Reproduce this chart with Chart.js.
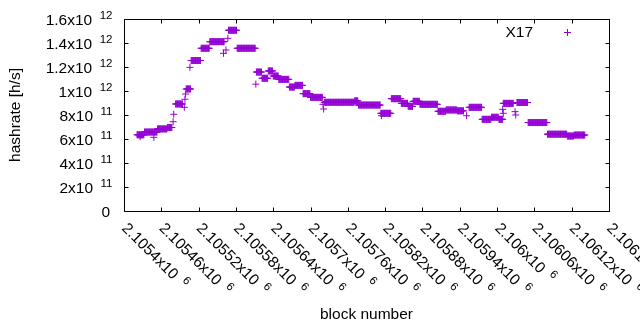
<!DOCTYPE html>
<html>
<head>
<meta charset="utf-8">
<script src="https://cdn.jsdelivr.net/npm/chart.js@4.4.0/dist/chart.umd.min.js"></script>
<style>
  html, body { margin: 0; padding: 0; background: #fff; }
  canvas { display: block; }
</style>
</head>
<body>
<canvas id="chart" width="640" height="330"></canvas>
<script>
// X17 hashrate per block — flat stretches (from, to, h/s)
const runFrom = [2105421, 2105433, 2105454, 2105470, 2105483, 2105500, 2105508, 2105524, 2105538, 2105568,
                 2105582, 2105613, 2105622, 2105632, 2105640, 2105649, 2105666, 2105675, 2105688, 2105700,
                 2105722, 2105771, 2105777, 2105813, 2105830, 2105846, 2105857, 2105865, 2105876, 2105905,
                 2105918, 2105936, 2105955, 2105976, 2105991, 2106003, 2106010, 2106032, 2106050, 2106081,
                 2106113, 2106124];
const runTo   = [2105432, 2105453, 2105469, 2105477, 2105494, 2105507, 2105523, 2105537, 2105561, 2105581,
                 2105611, 2105621, 2105631, 2105639, 2105648, 2105665, 2105674, 2105687, 2105699, 2105719,
                 2105770, 2105776, 2105812, 2105829, 2105845, 2105856, 2105864, 2105875, 2105904, 2105917,
                 2105935, 2105946, 2105975, 2105990, 2106002, 2106009, 2106026, 2106049, 2106080, 2106112,
                 2106123, 2106141];
const runHash = [6.35e11, 6.58e11, 6.84e11, 6.96e11, 8.92e11, 1.017e12, 1.254e12, 1.356e12, 1.411e12, 1.506e12,
                 1.356e12, 1.158e12, 1.106e12, 1.167e12, 1.125e12, 1.097e12, 1.033e12, 1.047e12, 9.78e11, 9.47e11,
                 9.06e11, 9.18e11, 8.83e11, 8.14e11, 9.36e11, 8.97e11, 8.72e11, 9.14e11, 8.89e11, 8.31e11,
                 8.42e11, 8.35e11, 8.64e11, 7.64e11, 7.81e11, 7.64e11, 8.97e11, 9.04e11, 7.37e11, 6.40e11,
                 6.25e11, 6.33e11];

// odd blocks that sit off the flat stretches
const singleBlock = [2105426, 2105448, 2105479, 2105480, 2105497, 2105498, 2105499, 2105506, 2105560, 2105564,
                     2105567, 2105612, 2105720, 2105721, 2105814, 2105951, 2106009, 2106010, 2106029, 2106030];
const singleHash  = [6.2e11, 6.14e11, 7.44e11, 8.06e11, 8.64e11, 9.31e11, 9.75e11, 1.197e12, 1.314e12, 1.342e12,
                     1.439e12, 1.057e12, 8.89e11, 8.50e11, 7.94e11, 7.94e11, 8.47e11, 8.14e11, 8.28e11, 8.0e11];

// tick positions and their gnuplot-style labels (mantissa x10^exp)
const xTicks    = [2105400, 2105460, 2105520, 2105580, 2105640, 2105700, 2105760,
                   2105820, 2105880, 2105940, 2106000, 2106060, 2106120, 2106180];
const xTickText = ['2.1054', '2.10546', '2.10552', '2.10558', '2.10564', '2.1057', '2.10576',
                   '2.10582', '2.10588', '2.10594', '2.106', '2.10606', '2.10612', '2.10618'];
const xTickExp  = '6';
const yTicks    = [0, 2e11, 4e11, 6e11, 8e11, 1e12, 1.2e12, 1.4e12, 1.6e12];
const yTickText = ['0', '2', '4', '6', '8', '1', '1.2', '1.4', '1.6'];
const yTickExp  = ['', '11', '11', '11', '11', '12', '12', '12', '12'];

const PURPLE = '#9400d3';
const FONT = '"Liberation Sans", Arial, sans-serif';

const points = [];
runFrom.forEach((from, i) => {
  for (let b = from; b <= runTo[i]; b++) points.push({ x: b, y: runHash[i] });
});
singleBlock.forEach((b, i) => points.push({ x: b, y: singleHash[i] }));

// border, inward ticks, superscript labels, titles and key — drawn like gnuplot
const gnuplotFrame = {
  id: 'gnuplotFrame',
  afterDraw(chart) {
    const { ctx, chartArea: a, scales: { x, y } } = chart;
    const L = Math.round(a.left) + 0.5, R = Math.round(a.right) + 0.5;
    const T = Math.round(a.top) + 0.5, B = Math.round(a.bottom) + 0.5;
    ctx.save();
    ctx.strokeStyle = '#000';
    ctx.lineWidth = 1;
    ctx.beginPath();
    ctx.rect(L, T, R - L, B - T);
    xTicks.forEach(v => {
      const px = Math.round(x.getPixelForValue(v)) + 0.5;
      ctx.moveTo(px, B); ctx.lineTo(px, B - 4);
      ctx.moveTo(px, T); ctx.lineTo(px, T + 4);
    });
    yTicks.forEach(v => {
      const py = Math.round(y.getPixelForValue(v)) + 0.5;
      ctx.moveTo(L, py); ctx.lineTo(L + 4, py);
      ctx.moveTo(R, py); ctx.lineTo(R - 4, py);
    });
    ctx.stroke();

    ctx.fillStyle = '#000';
    ctx.textBaseline = 'alphabetic';

    // y tick labels
    yTicks.forEach((v, i) => {
      const py = y.getPixelForValue(v);
      if (!yTickExp[i]) {
        ctx.font = '15.5px ' + FONT;
        ctx.textAlign = 'right';
        ctx.fillText(yTickText[i], 110, py + 6);
        return;
      }
      ctx.font = '11.5px ' + FONT;
      ctx.textAlign = 'right';
      ctx.fillText(yTickExp[i], 112.5, py);
      const sw = ctx.measureText(yTickExp[i]).width;
      ctx.font = '15.5px ' + FONT;
      ctx.fillText(yTickText[i] + 'x10', 112.5 - sw - 7.5, py + 6.3);
    });

    // x tick labels, rotated 45 degrees
    xTicks.forEach((v, i) => {
      const px = x.getPixelForValue(v);
      ctx.save();
      ctx.translate(px + 1, a.bottom + 14);
      ctx.rotate(Math.PI / 4);
      ctx.textAlign = 'left';
      ctx.font = '15.5px ' + FONT;
      const main = xTickText[i] + 'x10';
      ctx.fillText(main, 0, 5.5);
      const w = ctx.measureText(main).width;
      ctx.font = '11.5px ' + FONT;
      ctx.fillText(xTickExp, w + 7.5, -0.8);
      ctx.restore();
    });

    // axis titles
    ctx.font = '15.5px ' + FONT;
    ctx.textAlign = 'center';
    ctx.textBaseline = 'middle';
    ctx.fillText('block number', (a.left + a.right) / 2, 315);
    ctx.save();
    ctx.translate(16, (a.top + a.bottom) / 2);
    ctx.rotate(-Math.PI / 2);
    ctx.fillText('hashrate [h/s]', 0, 0);
    ctx.restore();

    // key
    ctx.textAlign = 'right';
    ctx.textBaseline = 'alphabetic';
    ctx.fillText('X17', 533, 37);
    ctx.strokeStyle = PURPLE;
    ctx.beginPath();
    ctx.moveTo(564, 32.5); ctx.lineTo(571, 32.5);
    ctx.moveTo(567.5, 29); ctx.lineTo(567.5, 36);
    ctx.stroke();
    ctx.restore();
  }
};

new Chart(document.getElementById('chart'), {
  type: 'scatter',
  data: {
    datasets: [{
      label: 'X17',
      data: points,
      pointStyle: 'cross',
      pointRadius: 3.5,
      pointHoverRadius: 3.5,
      borderColor: PURPLE,
      backgroundColor: PURPLE,
      pointBorderWidth: 1,
    }],
  },
  options: {
    responsive: false,
    animation: false,
    events: [],
    layout: { padding: { left: 124, right: 31, top: 19, bottom: 119 } },
    plugins: {
      legend: { display: false },
      tooltip: { enabled: false },
    },
    scales: {
      x: { type: 'linear', min: 2105400, max: 2106180, display: false },
      y: { type: 'linear', min: 0, max: 1.6e12, display: false },
    },
  },
  plugins: [gnuplotFrame],
});
</script>
</body>
</html>
